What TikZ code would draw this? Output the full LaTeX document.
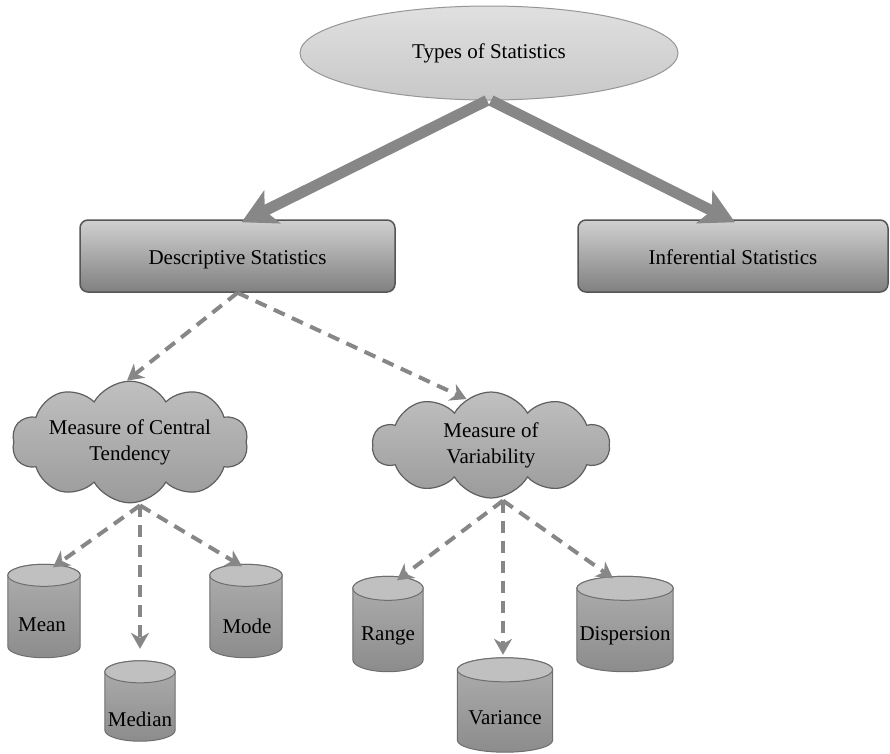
\documentclass[tikz,border=0pt]{standalone}
\usepackage{fontspec}
\setmainfont{Liberation Serif}
\usetikzlibrary{shapes.geometric,shapes.symbols,arrows.meta,calc}

\definecolor{ellfill}{RGB}{224,224,224}
\definecolor{ellfillB}{RGB}{200,200,200}
\definecolor{ellline}{RGB}{150,150,150}
\definecolor{boxtop}{RGB}{208,208,208}
\definecolor{boxbot}{RGB}{128,128,128}
\definecolor{boxline}{RGB}{85,85,85}
\definecolor{cloudtop}{RGB}{192,192,192}
\definecolor{cloudbot}{RGB}{155,155,155}
\definecolor{cloudline}{RGB}{95,95,95}
\definecolor{cyltop}{RGB}{175,175,175}
\definecolor{cylbot}{RGB}{140,140,140}
\definecolor{cylend}{RGB}{192,192,192}
\definecolor{cylline}{RGB}{110,110,110}
\definecolor{arrowgray}{RGB}{135,135,135}

\begin{document}
\begin{tikzpicture}[x=1pt,y=-1pt,
  txt/.style={font=\fontsize{21}{26}\selectfont, text=black, align=center},
  topnode/.style={txt, ellipse, draw=ellline, line width=1pt,
    top color=ellfill, bottom color=ellfillB, minimum width=378pt, minimum height=94pt},
  box/.style={txt, rectangle, rounded corners=8pt, draw=boxline, line width=1.5pt,
    top color=boxtop, bottom color=boxbot, minimum height=72pt,
    text height=19pt, text depth=3pt},
  cloudnode/.style={txt, cloud, cloud puffs=10, cloud puff arc=120,
    draw=cloudline, line width=1.2pt, top color=cloudtop, bottom color=cloudbot,
    inner sep=0pt},
  cylspot/.style={rectangle, inner sep=0pt},
  bigarrow/.style={draw=arrowgray, line width=11pt,
    -{Stealth[length=34pt,width=36pt,inset=8pt]}},
  dasharrow/.style={draw=arrowgray, line width=4pt, dash pattern=on 12pt off 8pt,
    -{Stealth[length=16pt,width=18pt,inset=5pt]}}
]
\useasboundingbox (0,0) rectangle (890,753);

% top level
\node[topnode] (types) at (489,53) {Types of Statistics};
\node[box, minimum width=315pt] (desc) at (237.5,256) {Descriptive Statistics};
\node[box, minimum width=310pt] (inf) at (733,256) {Inferential Statistics};

% clouds
\node[cloudnode, aspect=2.7, minimum width=236pt, minimum height=100pt] (ct) at (130,442)
  {Measure of Central\\Tendency};
\node[cloudnode, aspect=2.1, minimum width=237pt, minimum height=106pt] (mov) at (491,445)
  {Measure of\\Variability};

% cylinder footprints
\node[cylspot, minimum width=72pt, minimum height=93pt] (mean) at (44,611) {};
\node[cylspot, minimum width=70pt, minimum height=80pt] (median) at (140,701) {};
\node[cylspot, minimum width=72pt, minimum height=93pt] (mode) at (246,611) {};
\node[cylspot, minimum width=70pt, minimum height=95pt] (range) at (388,624) {};
\node[cylspot, minimum width=95pt, minimum height=94pt] (variance) at (505,705) {};
\node[cylspot, minimum width=96pt, minimum height=95pt] (dispersion) at (625,624) {};

% cylinder bodies and lids
\foreach \cname/\ry in {mean/11,median/11,mode/11,range/12,variance/12,dispersion/12}{
  \path let \p1=(\cname.north west), \p2=(\cname.south east) in
    [top color=cyltop, bottom color=cylbot, draw=cylline, line width=1pt]
    (\x1,\y1-\ry pt) -- (\x1,\y2+\ry pt)
    arc[start angle=180, end angle=360, x radius={(\x2-\x1)/2}, y radius=\ry pt]
    -- (\x2,\y1-\ry pt)
    arc[start angle=0, end angle=180, x radius={(\x2-\x1)/2}, y radius=\ry pt]
    -- cycle;
  \path let \p1=(\cname.north west), \p2=(\cname.south east) in
    [fill=cylend, draw=cylline, line width=1pt]
    ({(\x1+\x2)/2},\y1-\ry pt) ellipse[x radius={(\x2-\x1)/2}, y radius=\ry pt];
}

\node[txt] (meanlbl) at (42,625) {Mean};
\node[txt] (medianlbl) at (140,719) {Median};
\node[txt] (modelbl) at (247,626) {Mode};
\node[txt] (rangelbl) at (388,636) {Range};
\node[txt] (variancelbl) at (505,718) {Variance};
\node[txt] (dispersionlbl) at (625,636) {Dispersion};

% connectors
\draw[bigarrow] ([xshift=-2pt]types.south) -- ([xshift=4pt,yshift=-3pt]desc.north);
\draw[bigarrow] ([xshift=2pt]types.south) -- ([xshift=2pt,yshift=-3pt]inf.north);

\draw[dasharrow] (desc.south) -- ([xshift=-3pt]ct.north);
\draw[dasharrow] (desc.south) -- (mov.118);

\coordinate (ctb) at ([xshift=10pt,yshift=-2pt]ct.south);
\coordinate (movb) at ([xshift=12pt,yshift=-2pt]mov.south);

\draw[dasharrow] (ctb) -- ([xshift=9pt,yshift=-3pt]mean.north);
\draw[dasharrow, shorten >=12pt] (ctb) -- (median.north);
\draw[dasharrow] (ctb) -- ([xshift=-4pt,yshift=-2pt]mode.north);

\draw[dasharrow] (movb) -- ([xshift=9pt,yshift=-4pt]range.north);
\draw[dasharrow, shorten >=3pt] (movb) -- ([xshift=-2pt]variance.north);
\draw[dasharrow] (movb) -- ([xshift=-12pt,yshift=-2pt]dispersion.north);
\end{tikzpicture}
\end{document}
